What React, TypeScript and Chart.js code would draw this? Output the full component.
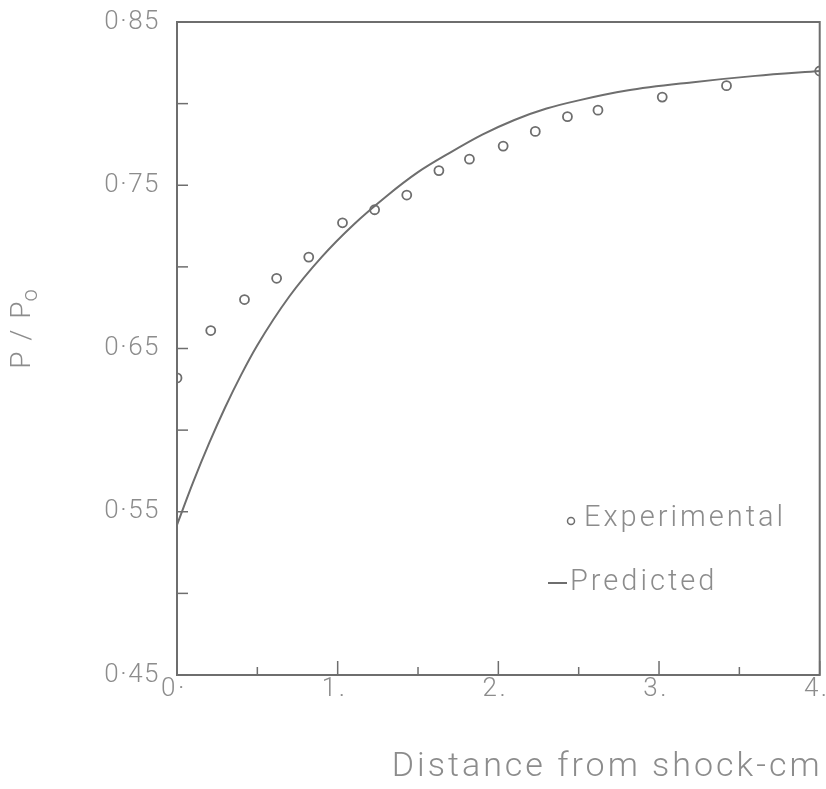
import React, { useEffect, useRef } from 'react';
import { Chart, registerables } from 'chart.js';

Chart.register(...registerables);

// ---- data ----
const expX = [0, 0.21, 0.42, 0.62, 0.82, 1.03, 1.23, 1.43, 1.63, 1.82, 2.03, 2.23, 2.43, 2.62, 3.02, 3.42, 4.0];
const expY = [0.632, 0.661, 0.68, 0.693, 0.706, 0.727, 0.735, 0.744, 0.759, 0.766, 0.774, 0.783, 0.792, 0.796, 0.804, 0.811, 0.82];
const predX = [0, 0.1, 0.2, 0.3, 0.4, 0.5, 0.7, 0.9, 1.1, 1.3, 1.5, 1.7, 1.9, 2.1, 2.3, 2.5, 2.8, 3.2, 3.6, 4.0];
const predY = [0.542, 0.568, 0.592, 0.614, 0.634, 0.652, 0.682, 0.706, 0.726, 0.743, 0.758, 0.77, 0.781, 0.79, 0.797, 0.802, 0.808, 0.813, 0.817, 0.82];

const xTickValues = [0, 1, 2, 3, 4];
const xTickLabels = ['0·', '1.', '2.', '3.', '4.'];
const xMinorTicks = [0.5, 1.5, 2.5, 3.5];
const yTickValues = [0.45, 0.55, 0.65, 0.75, 0.85];
const yTickLabels = ['0·45', '0·55', '0·65', '0·75', '0·85'];
const yMinorTicks = [0.5, 0.6, 0.7, 0.8];
const seriesNames = ['Experimental', 'Predicted'];
const xTitle = 'Distance from shock-cm';
const yTitleMain = 'P / P';
const yTitleSub = 'o';

const INK = '#6e6e6e';
const TEXT = '#8c8c8c';
const FONT = 'Roboto, "DejaVu Sans", sans-serif';

const decorPlugin = {
  id: 'decor',
  afterDraw(chart: any) {
    const ctx = chart.ctx as CanvasRenderingContext2D;
    const xs = chart.scales.x;
    const ys = chart.scales.y;
    const a = chart.chartArea;
    ctx.save();
    // frame
    ctx.strokeStyle = INK;
    ctx.lineWidth = 2;
    ctx.strokeRect(a.left, a.top, a.right - a.left, a.bottom - a.top);
    // y ticks (inward)
    ctx.lineWidth = 1.5;
    [...yTickValues, ...yMinorTicks].forEach((v) => {
      const y = ys.getPixelForValue(v);
      ctx.beginPath();
      ctx.moveTo(a.left, y);
      ctx.lineTo(a.left + 11, y);
      ctx.stroke();
    });
    xTickValues.forEach((v) => {
      const x = xs.getPixelForValue(v);
      ctx.beginPath();
      ctx.moveTo(x, a.bottom);
      ctx.lineTo(x, a.bottom - 14);
      ctx.stroke();
    });
    xMinorTicks.forEach((v) => {
      const x = xs.getPixelForValue(v);
      ctx.beginPath();
      ctx.moveTo(x, a.bottom);
      ctx.lineTo(x, a.bottom - 8);
      ctx.stroke();
    });

    // tick labels
    ctx.fillStyle = TEXT;
    (ctx as any).letterSpacing = '1.5px';
    ctx.font = `300 26px ${FONT}`;
    ctx.textBaseline = 'middle';
    ctx.textAlign = 'right';
    yTickValues.forEach((v, i) => {
      ctx.fillText(yTickLabels[i], a.left - 17, ys.getPixelForValue(v));
    });
    (ctx as any).letterSpacing = '2.5px';
    ctx.textAlign = 'center';
    ctx.textBaseline = 'middle';
    xTickValues.forEach((v, i) => {
      ctx.fillText(xTickLabels[i], xs.getPixelForValue(v) - 3, a.bottom + 14);
    });

    // x title
    (ctx as any).letterSpacing = '3px';
    ctx.font = `300 34px ${FONT}`;
    ctx.textAlign = 'right';
    ctx.textBaseline = 'middle';
    ctx.fillText(xTitle, a.right + 3, a.bottom + 92);

    // y title
    ctx.save();
    ctx.translate(30, 327);
    ctx.rotate(-Math.PI / 2);
    (ctx as any).letterSpacing = '2px';
    ctx.font = `300 28px ${FONT}`;
    ctx.textBaseline = 'alphabetic';
    ctx.textAlign = 'left';
    const mainW = ctx.measureText(yTitleMain).width;
    ctx.font = `300 22px ${FONT}`;
    const subW = ctx.measureText(yTitleSub).width;
    const startX = -(mainW + subW) / 2;
    ctx.font = `300 28px ${FONT}`;
    ctx.fillText(yTitleMain, startX, 0);
    ctx.font = `300 22px ${FONT}`;
    ctx.fillText(yTitleSub, startX + mainW - 2, 7);
    ctx.restore();

    // legend
    ctx.font = `300 29px ${FONT}`;
    (ctx as any).letterSpacing = '3px';
    ctx.textAlign = 'left';
    ctx.textBaseline = 'middle';
    const ly1 = a.top + 497;
    const ly2 = a.top + 561;
    ctx.lineWidth = 1.5;
    ctx.strokeStyle = INK;
    ctx.fillStyle = '#fff';
    ctx.beginPath();
    ctx.arc(a.left + 394, ly1 + 2, 3.5, 0, Math.PI * 2);
    ctx.fill();
    ctx.stroke();
    ctx.fillStyle = TEXT;
    ctx.fillText(seriesNames[0], a.left + 407, ly1);
    ctx.lineWidth = 2;
    ctx.beginPath();
    ctx.moveTo(a.left + 371, ly2);
    ctx.lineTo(a.left + 390, ly2);
    ctx.stroke();
    ctx.fillText(seriesNames[1], a.left + 393, ly2);
    ctx.restore();
  },
};

export default function App() {
  const ref = useRef<HTMLCanvasElement | null>(null);
  useEffect(() => {
    document.body.style.margin = '0';
    const canvas = ref.current!;
    const chart = new Chart(canvas, {
      type: 'scatter',
      data: {
        datasets: [
          {
            label: seriesNames[1],
            data: predX.map((x, i) => ({ x, y: predY[i] })),
            showLine: true,
            borderColor: INK,
            borderWidth: 2,
            pointRadius: 0,
            cubicInterpolationMode: 'monotone',
            fill: false,
          },
          {
            label: seriesNames[0],
            data: expX.map((x, i) => ({ x, y: expY[i] })),
            showLine: false,
            pointStyle: 'circle',
            pointRadius: 4.5,
            pointBorderWidth: 1.8,
            pointBorderColor: INK,
            pointBackgroundColor: '#ffffff',
          },
        ],
      },
      options: {
        animation: false,
        responsive: false,
        devicePixelRatio: 1,
        layout: { padding: { top: 22, right: 4, left: 0, bottom: 0 } },
        plugins: { legend: { display: false }, tooltip: { enabled: false } },
        scales: {
          x: {
            type: 'linear',
            min: 0,
            max: 4,
            grid: { display: false },
            border: { display: false },
            ticks: { display: false },
            afterFit: (s: any) => { s.height = 114; },
          },
          y: {
            type: 'linear',
            min: 0.45,
            max: 0.85,
            grid: { display: false },
            border: { display: false },
            ticks: { display: false },
            afterFit: (s: any) => { s.width = 177; },
          },
        },
      },
      plugins: [decorPlugin],
    } as any);
    return () => chart.destroy();
  }, []);
  return (
    <div style={{ position: 'fixed', left: 0, top: 0, width: 826, height: 789, background: '#fff' }}>
      <canvas ref={ref} width={826} height={789} style={{ display: 'block' }} />
    </div>
  );
}
